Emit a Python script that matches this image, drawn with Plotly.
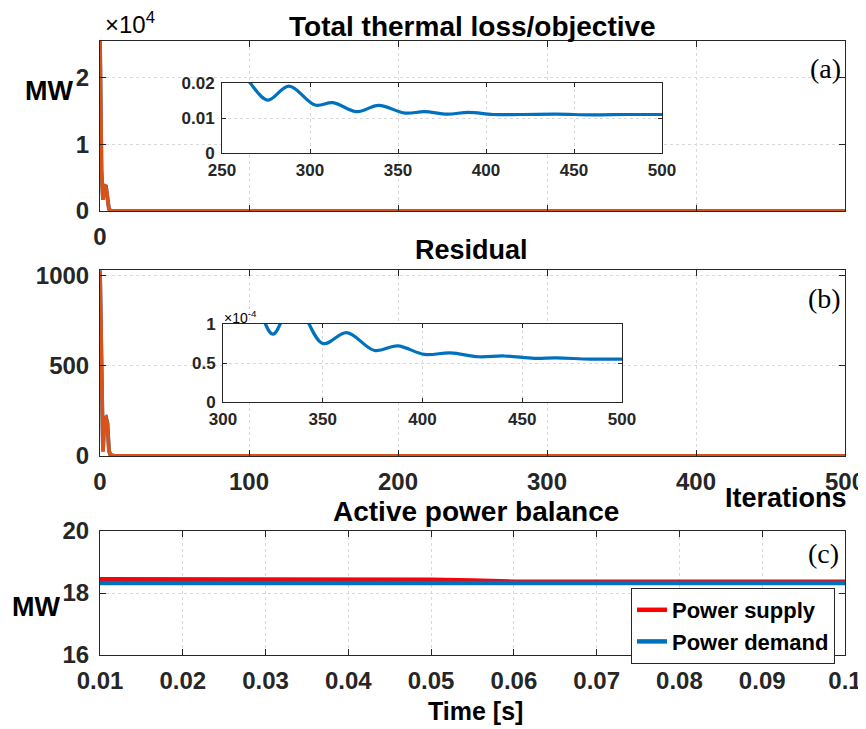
import plotly.graph_objects as go

# The page body has an 8px margin, so the figure starts at (8, 8) in the window.
OFF = 8
W, H = 866 - OFF, 729 - OFF


def px(x):
    return (x - OFF) / W


def py(y):
    return 1 - (y - OFF) / H


# ---------------- data ----------------
loss_iter = [0, 1, 2, 3, 4, 5, 6, 7, 8, 10, 15, 20, 50, 100, 150, 200, 230,
             250, 258, 266, 276, 288, 303, 313, 326.5, 339, 354, 365, 378, 390,
             404, 420, 440, 460, 480, 500]
loss_val = [25500, 6000, 1700, 3800, 3700, 1500, 300, 60, 20, 8, 3, 1.5, 0.4,
            0.12, 0.06, 0.045, 0.04,
            0.035, 0.026, 0.020, 0.0151, 0.0191, 0.0137, 0.0144, 0.0118, 0.0136,
            0.0114, 0.0118, 0.0111, 0.0116, 0.0110, 0.0110, 0.0111, 0.0109,
            0.0110, 0.0110]

res_iter = [0, 1, 2, 3, 4, 5, 6, 7, 8, 10, 15, 20, 50, 100, 150, 200, 250, 280,
            300, 310, 316, 325, 335.5, 350, 362, 376, 387.5, 401, 414, 428, 441,
            456, 467, 484, 500]
res_val = [1030, 500, 25, 210, 215, 180, 30, 5, 2, 1, 0.5, 0.2, 0.03, 0.005,
           0.002, 0.001, 0.0005, 0.0003,
           0.00021, 0.00017, 0.000137, 0.000087, 0.000130, 0.000075, 0.000089,
           0.000066, 0.000072, 0.000061, 0.000063, 0.000058, 0.000059, 0.000056,
           0.0000565, 0.000055, 0.000055]

time_s = [0.01, 0.02, 0.03, 0.04, 0.05, 0.055, 0.06, 0.07, 0.08, 0.09, 0.1]
power_supply = [18.44, 18.44, 18.44, 18.44, 18.43, 18.40, 18.365, 18.36, 18.36,
                18.36, 18.36]
power_demand = [18.32, 18.32, 18.32, 18.32, 18.32, 18.32, 18.32, 18.32, 18.32,
                18.32, 18.32]

iter_ticks = [0, 100, 200, 300, 400, 500]
time_ticks = [0.01, 0.02, 0.03, 0.04, 0.05, 0.06, 0.07, 0.08, 0.09, 0.1]
time_labels = ["0.01", "0.02", "0.03", "0.04", "0.05", "0.06", "0.07", "0.08",
               "0.09", "0.1"]

INSET_A_START = 250
INSET_B_START = 300

# ---------------- styles ----------------
ORANGE = "#D95319"
BLUE = "#0072BD"
RED = "#FF0000"
AX = "#262626"
GRID = "#D9D9D9"
FONT = "Liberation Sans, Arial, Helvetica, sans-serif"
SERIF = "Liberation Serif, Times New Roman, serif"
TICK = 24
INSET_TICK = 17

fig = go.Figure()

# panel (a)
fig.add_trace(go.Scatter(x=loss_iter, y=loss_val, mode="lines",
                         line=dict(color=BLUE, width=3.8), showlegend=False,
                         xaxis="x", yaxis="y"))
fig.add_trace(go.Scatter(x=loss_iter, y=loss_val, mode="lines",
                         line=dict(color=ORANGE, width=3.8), showlegend=False,
                         xaxis="x", yaxis="y"))
# panel (b)
fig.add_trace(go.Scatter(x=res_iter, y=res_val, mode="lines",
                         line=dict(color=BLUE, width=3.8), showlegend=False,
                         xaxis="x2", yaxis="y2"))
fig.add_trace(go.Scatter(x=res_iter, y=res_val, mode="lines",
                         line=dict(color=ORANGE, width=3.8), showlegend=False,
                         xaxis="x2", yaxis="y2"))
# panel (c)
fig.add_trace(go.Scatter(x=time_s, y=power_supply, mode="lines", name="Power supply",
                         line=dict(color=RED, width=4.5), xaxis="x3", yaxis="y3"))
fig.add_trace(go.Scatter(x=time_s, y=power_demand, mode="lines", name="Power demand",
                         line=dict(color=BLUE, width=4.5), xaxis="x3", yaxis="y3"))

# insets
ia = [i for i, v in enumerate(loss_iter) if v >= INSET_A_START]
fig.add_trace(go.Scatter(x=[loss_iter[i] for i in ia], y=[loss_val[i] for i in ia],
                         mode="lines", line=dict(color=BLUE, width=3.2, shape="spline"),
                         showlegend=False, xaxis="x4", yaxis="y4"))
ib = [i for i, v in enumerate(res_iter) if v >= INSET_B_START]
fig.add_trace(go.Scatter(x=[res_iter[i] for i in ib], y=[res_val[i] for i in ib],
                         mode="lines", line=dict(color=BLUE, width=3.2, shape="spline"),
                         showlegend=False, xaxis="x5", yaxis="y5"))


def axis(domain, rng, anchor, tickvals, ticktext, size, ticklen, standoff):
    return dict(domain=domain, range=rng, anchor=anchor, tickvals=tickvals,
                ticktext=ticktext, ticks="inside", ticklen=ticklen, tickwidth=1,
                tickcolor=AX, showline=True, linecolor=AX, linewidth=1,
                mirror="ticks", showgrid=True, gridcolor=GRID, griddash="dot",
                gridwidth=1, zeroline=False, automargin=False,
                tickfont=dict(family=FONT, size=size, color=AX, weight="bold"),
                ticklabelstandoff=standoff)


XD = [px(100), px(845)]
layout = dict(
    width=W, height=H, autosize=False,
    margin=dict(l=0, r=0, t=0, b=0, pad=0),
    paper_bgcolor="white", plot_bgcolor="white",
    font=dict(family=FONT, color="black"),
    xaxis=axis(XD, [0, 500], "y", iter_ticks, ["0", " ", " ", " ", " ", " "], TICK, 6, 4),
    yaxis=axis([py(211), py(41)], [0, 25500], "x", [0, 10000, 20000],
               ["0", "1", "2"], TICK, 6, 5),
    xaxis2=axis(XD, [0, 500], "y2", iter_ticks, [str(t) for t in iter_ticks], TICK, 6, 4),
    yaxis2=axis([py(456), py(270)], [0, 1033], "x2", [0, 500, 1000],
                ["0", "500", "1000"], TICK, 6, 5),
    xaxis3=axis(XD, [0.01, 0.1], "y3", time_ticks, time_labels, TICK, 6, 4),
    yaxis3=axis([py(655), py(531)], [16, 20], "x3", [16, 18, 20],
                ["16", "18", "20"], TICK, 6, 5),
    xaxis4=axis([px(222), px(662)], [250, 500], "y4", [250, 300, 350, 400, 450, 500],
                ["250", "300", "350", "400", "450", "500"], INSET_TICK, 4, 2),
    yaxis4=axis([py(153), py(83)], [0, 0.02], "x4", [0, 0.01, 0.02],
                ["0", "0.01", "0.02"], INSET_TICK, 4, 3),
    xaxis5=axis([px(223), px(622)], [300, 500], "y5", [300, 350, 400, 450, 500],
                ["300", "350", "400", "450", "500"], INSET_TICK, 4, 2),
    yaxis5=axis([py(402), py(324)], [0, 1e-4], "x5", [0, 0.5e-4, 1e-4],
                ["0", "0.5", "1"], INSET_TICK, 4, 3),
    legend=dict(x=px(631), y=py(588), xanchor="left", yanchor="top",
                bgcolor="white", bordercolor=AX, borderwidth=1,
                font=dict(family=FONT, size=22, color="black", weight="bold"),
                tracegroupgap=0, itemwidth=30),
)
fig.update_layout(**layout)


def ann(text, x, y, size, xanchor="center", yanchor="middle", family=FONT):
    fig.add_annotation(text=text, x=px(x), y=py(y), xref="paper", yref="paper",
                       xanchor=xanchor, yanchor=yanchor, showarrow=False,
                       font=dict(family=family, size=size, color="black"))


ann("<b>Total thermal loss/objective</b>", 472, 8.5, 28, yanchor="top")
ann("<b>Residual</b>", 471, 250, 27)
ann("<b>Active power balance</b>", 476, 511, 28)
ann("<b>Iterations</b>", 849, 498, 27, xanchor="right")
ann("<b>Time [s]</b>", 475, 711, 25)
ann("<b>MW</b>", 49, 91, 27)
ann("<b>MW</b>", 36, 607, 27)
ann("×10<sup>4</sup>", 103, 23, 24, xanchor="left")
ann("×10<sup>-4</sup>", 222, 317, 14, xanchor="left")
ann("(a)", 843, 69, 28, xanchor="right", family=SERIF)
ann("(b)", 843, 298, 28, xanchor="right", family=SERIF)
ann("(c)", 841, 553, 28, xanchor="right", family=SERIF)

fig.write_html("out.html")
